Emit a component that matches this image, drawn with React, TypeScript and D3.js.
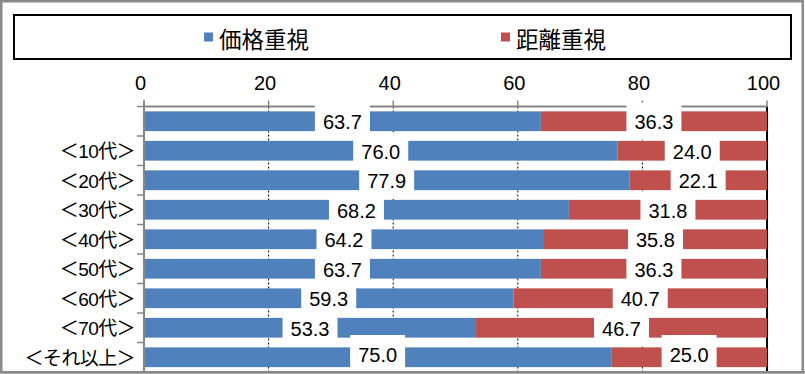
import * as d3 from "d3";
import { useEffect, useRef } from "react";

const categories = ["", "＜10代＞", "＜20代＞", "＜30代＞", "＜40代＞", "＜50代＞", "＜60代＞", "＜70代＞", "＜それ以上＞"];
const priceValues = [63.7, 76.0, 77.9, 68.2, 64.2, 63.7, 59.3, 53.3, 75.0];
const distanceValues = [36.3, 24.0, 22.1, 31.8, 35.8, 36.3, 40.7, 46.7, 25.0];
const seriesNames = ["価格重視", "距離重視"];
const seriesColors = ["#4F81BD", "#C0504D"];
const xTicks = [0, 20, 40, 60, 80, 100];

interface Row {
  index: number;
  price: number;
  distance: number;
}

export default function App() {
  const svgRef = useRef<SVGSVGElement>(null);

  const width = 805;
  const height = 374;

  useEffect(() => {
    const svg = d3.select(svgRef.current);
    svg.selectAll("*").remove();

    const plot = { left: 144, right: 767, top: 106.5, bottom: 372 };
    const numFont = "'Liberation Sans', Arial, 'Noto Sans CJK JP', sans-serif";
    const jpFont = "'Noto Sans CJK JP', sans-serif";
    const axisGray = "#868686";

    const x = d3.scaleLinear().domain([0, 100]).range([plot.left, plot.right]);
    const y = d3.scaleBand<number>()
      .domain(d3.range(categories.length))
      .range([plot.top, plot.bottom])
      .paddingInner(0.33)
      .paddingOuter(0.165);

    const rows: Row[] = categories.map((_, i) => ({
      index: i,
      price: priceValues[i],
      distance: distanceValues[i],
    }));
    const stacked = d3.stack<Row>().keys(["price", "distance"])(rows);

    // white background + outer frame
    svg.append("rect")
      .attr("x", 1.25).attr("y", 1.25)
      .attr("width", width - 3.5).attr("height", height - 3)
      .attr("fill", "#fff")
      .attr("stroke", "#8a8a8a")
      .attr("stroke-width", 2.5);

    // legend box
    svg.append("rect")
      .attr("x", 14).attr("y", 15)
      .attr("width", 777).attr("height", 44)
      .attr("fill", "#fff")
      .attr("stroke", "#000")
      .attr("stroke-width", 2);

    const legendX = [204, 501];
    seriesNames.forEach((name, i) => {
      svg.append("rect")
        .attr("x", legendX[i]).attr("y", 32.5)
        .attr("width", 9).attr("height", 9)
        .attr("fill", seriesColors[i]);
      svg.append("text")
        .attr("x", legendX[i] + 15)
        .attr("y", 37.5)
        .attr("dominant-baseline", "central")
        .attr("font-family", jpFont)
        .attr("font-size", 22.5)
        .attr("fill", "#000")
        .text(name);
    });

    // dotted gridlines
    svg.append("g")
      .selectAll("line")
      .data(xTicks.filter((t) => t > 0 && t < 100))
      .join("line")
      .attr("x1", (d) => x(d)).attr("x2", (d) => x(d))
      .attr("y1", plot.top).attr("y2", plot.bottom)
      .attr("stroke", "#000")
      .attr("stroke-width", 1)
      .attr("stroke-dasharray", "2,2");

    // solid line at 100
    svg.append("line")
      .attr("x1", x(100)).attr("x2", x(100))
      .attr("y1", plot.top).attr("y2", plot.bottom)
      .attr("stroke", "#000")
      .attr("stroke-width", 2);

    // bars
    stacked.forEach((layer, si) => {
      svg.append("g")
        .attr("fill", seriesColors[si])
        .selectAll("rect")
        .data(layer)
        .join("rect")
        .attr("x", (d) => x(d[0]))
        .attr("y", (d) => y(d.data.index)!)
        .attr("width", (d) => x(d[1]) - x(d[0]))
        .attr("height", y.bandwidth());
    });

    // x axis (top)
    svg.append("line")
      .attr("x1", plot.left).attr("x2", plot.right)
      .attr("y1", plot.top).attr("y2", plot.top)
      .attr("stroke", axisGray)
      .attr("stroke-width", 2);
    xTicks.forEach((t) => {
      svg.append("line")
        .attr("x1", x(t)).attr("x2", x(t))
        .attr("y1", plot.top - 6).attr("y2", plot.top)
        .attr("stroke", axisGray)
        .attr("stroke-width", 1.5);
      svg.append("text")
        .attr("x", x(t) - 3.5)
        .attr("y", 90)
        .attr("text-anchor", "middle")
        .attr("font-family", numFont)
        .attr("font-size", 20)
        .attr("fill", "#000")
        .text(t);
    });

    // y axis (left)
    svg.append("line")
      .attr("x1", plot.left).attr("x2", plot.left)
      .attr("y1", plot.top - 6).attr("y2", plot.bottom)
      .attr("stroke", axisGray)
      .attr("stroke-width", 2);
    const step = y.step();
    d3.range(categories.length + 1).forEach((i) => {
      const ty = plot.top + i * step;
      svg.append("line")
        .attr("x1", plot.left - 7).attr("x2", plot.left)
        .attr("y1", ty).attr("y2", ty)
        .attr("stroke", axisGray)
        .attr("stroke-width", 1.5);
    });

    // category labels
    svg.append("g")
      .selectAll("text")
      .data(categories)
      .join("text")
      .attr("x", 135)
      .attr("y", (_, i) => y(i)! + y.bandwidth() / 2 + 1)
      .attr("text-anchor", "end")
      .attr("dominant-baseline", "central")
      .attr("font-family", numFont)
      .attr("font-size", 19)
      .attr("letter-spacing", -0.6)
      .attr("fill", "#000")
      .text((d) => d);

    // data labels with white boxes
    const boxW = 55;
    const boxH = 37;
    stacked.forEach((layer) => {
      layer.forEach((d) => {
        const cx = (x(d[0]) + x(d[1])) / 2;
        const cy = y(d.data.index)! + y.bandwidth() / 2;
        const by = Math.min(cy - boxH / 2, plot.bottom - boxH);
        svg.append("rect")
          .attr("x", cx - boxW / 2).attr("y", by)
          .attr("width", boxW).attr("height", boxH)
          .attr("fill", "#fff");
        svg.append("text")
          .attr("x", cx)
          .attr("y", by + boxH / 2 + 1)
          .attr("text-anchor", "middle")
          .attr("dominant-baseline", "central")
          .attr("font-family", numFont)
          .attr("font-size", 20)
          .attr("fill", "#000")
          .text((d[1] - d[0]).toFixed(1));
      });
    });

    // frame edge over plot bottom
    svg.append("line")
      .attr("x1", 0).attr("x2", width)
      .attr("y1", height - 1.75).attr("y2", height - 1.75)
      .attr("stroke", "#8a8a8a")
      .attr("stroke-width", 2.5);
  }, []);

  return (
    <svg
      ref={svgRef}
      width={width}
      height={height}
      viewBox={`0 0 ${width} ${height}`}
      style={{ position: "absolute", left: 0, top: 0, display: "block" }}
    />
  );
}
